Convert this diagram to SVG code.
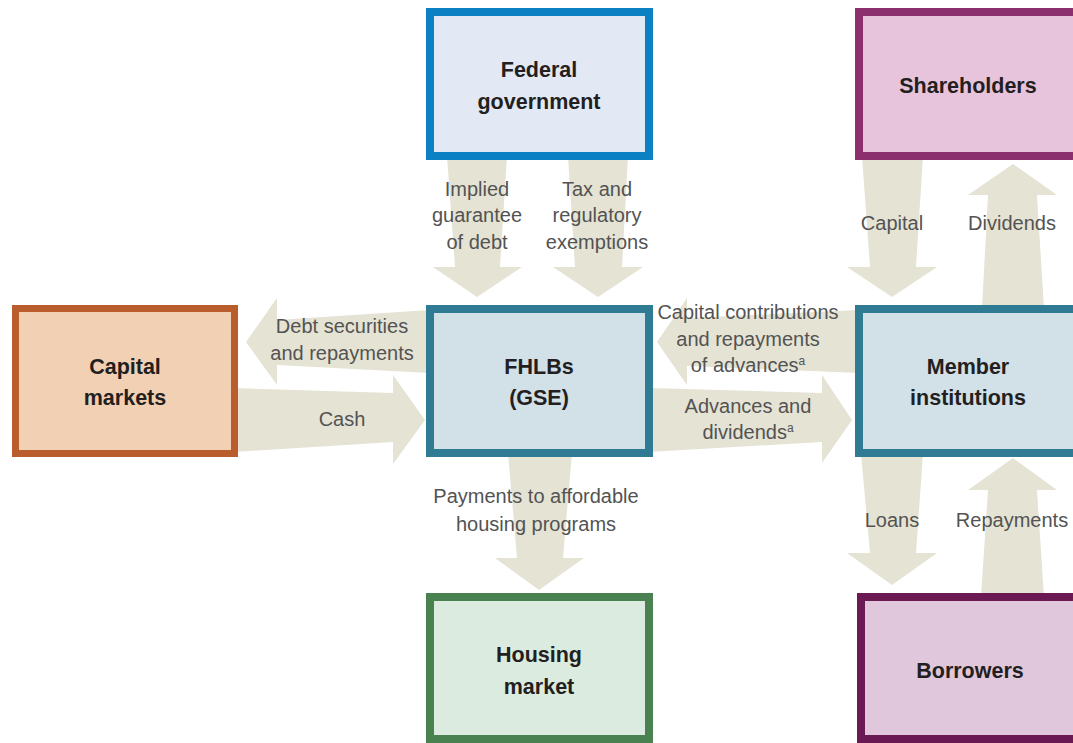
<svg xmlns="http://www.w3.org/2000/svg" width="1073" height="743" viewBox="0 0 1073 743">
<style>
.arrow{fill:#e5e3d4;}
.box{stroke-width:8;}
.node{font-family:"Liberation Sans",Arial,sans-serif;font-weight:bold;font-size:21.5px;fill:#231f20;text-anchor:middle;}
.lbl{font-family:"Liberation Sans",Arial,sans-serif;font-size:20px;fill:#535353;text-anchor:middle;}
.sup{font-size:12px;}
</style>
<rect width="1073" height="743" fill="#ffffff"/>
<g id="connectors">
  <polygon class="arrow" points="447,156 507,156 500,267 522,267 477,297 433,267 455,267"/>
  <polygon class="arrow" points="568,156 628,156 622,267 643,267 598,297 553,267 575,267"/>
  <polygon class="arrow" points="430,310 277,320 277,298 246,342 277,385 277,365 430,373"/>
  <polygon class="arrow" points="234,388 393,393 393,375 425,420 393,464 393,442 234,452"/>
  <polygon class="arrow" points="859,310 687,318 687,298 657,342 687,385 687,366 859,373"/>
  <polygon class="arrow" points="649,388 822,393 822,375 852,420 822,463 822,442 649,452"/>
  <polygon class="arrow" points="862,156 923,156 916,267 937,267 892,297 847,267 870,267"/>
  <polygon class="arrow" points="982,309 1044,309 1037,195 1057,195 1013,164 968,195 988,195"/>
  <polygon class="arrow" points="861,453 923,453 916,553 937,553 892,585 847,553 870,553"/>
  <polygon class="arrow" points="981,597 1044,597 1037,490 1057,490 1013,458 968,490 988,490"/>
  <polygon class="arrow" points="508,453 572,453 563,558 584,558 539,590 495,558 517,558"/>
  <text class="lbl" x="477" y="196">Implied</text>
  <text class="lbl" x="477" y="222">guarantee</text>
  <text class="lbl" x="477" y="249">of debt</text>
  <text class="lbl" x="597" y="196">Tax and</text>
  <text class="lbl" x="597" y="222">regulatory</text>
  <text class="lbl" x="597" y="249">exemptions</text>
  <text class="lbl" x="892" y="230">Capital</text>
  <text class="lbl" x="1012" y="230">Dividends</text>
  <text class="lbl" x="342" y="333">Debt securities</text>
  <text class="lbl" x="342" y="360">and repayments</text>
  <text class="lbl" x="342" y="426">Cash</text>
  <text class="lbl" x="748" y="319">Capital contributions</text>
  <text class="lbl" x="748" y="346">and repayments</text>
  <text class="lbl" x="748" y="372">of advances<tspan class="sup" dy="-7">a</tspan></text>
  <text class="lbl" x="748" y="413">Advances and</text>
  <text class="lbl" x="748" y="439">dividends<tspan class="sup" dy="-7">a</tspan></text>
  <text class="lbl" x="536" y="503">Payments to affordable</text>
  <text class="lbl" x="536" y="531">housing programs</text>
  <text class="lbl" x="892" y="527">Loans</text>
  <text class="lbl" x="1012" y="527">Repayments</text>
</g>
<g id="federal-government">
  <rect class="box" x="430" y="12" width="219" height="144" fill="#e2e8f4" stroke="#0b80c3"/>
  <text class="node" x="539" y="77">Federal</text>
  <text class="node" x="539" y="109">government</text>
</g>
<g id="shareholders">
  <rect class="box" x="859" y="12" width="219" height="144" fill="#e7c4dc" stroke="#8b2f6f"/>
  <text class="node" x="968" y="93">Shareholders</text>
</g>
<g id="capital-markets">
  <rect x="15.5" y="308.5" width="219" height="145" fill="#f2d0b3" stroke="#b85d2b" stroke-width="7"/>
  <text class="node" x="125" y="374">Capital</text>
  <text class="node" x="125" y="405">markets</text>
</g>
<g id="fhlbs">
  <rect class="box" x="430" y="309" width="219" height="144" fill="#d2e0e8" stroke="#2f7b93"/>
  <text class="node" x="539" y="374">FHLBs</text>
  <text class="node" x="539" y="405">(GSE)</text>
</g>
<g id="member-institutions">
  <rect class="box" x="859" y="309" width="219" height="144" fill="#d2e0e8" stroke="#2f7b93"/>
  <text class="node" x="968" y="374">Member</text>
  <text class="node" x="968" y="405">institutions</text>
</g>
<g id="housing-market">
  <rect class="box" x="430" y="597" width="219" height="142" fill="#dcebdf" stroke="#4a8150"/>
  <text class="node" x="539" y="662">Housing</text>
  <text class="node" x="539" y="694">market</text>
</g>
<g id="borrowers">
  <rect class="box" x="861" y="597" width="219" height="142" fill="#e0c7dc" stroke="#6b1953"/>
  <text class="node" x="970" y="678">Borrowers</text>
</g>
</svg>
